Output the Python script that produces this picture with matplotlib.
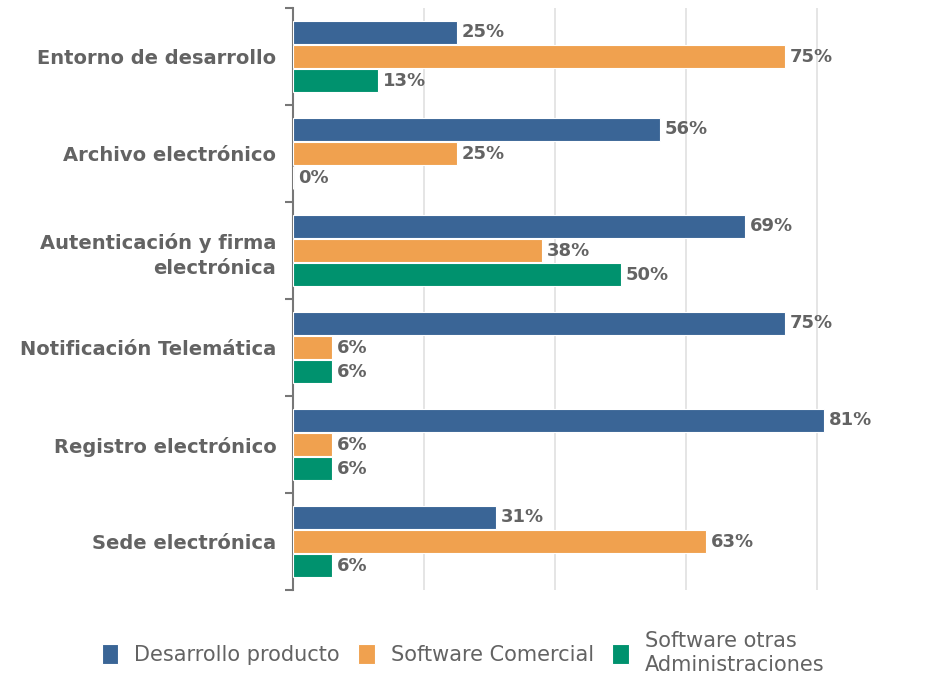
import numpy as np
import matplotlib.pyplot as plt
from matplotlib.ticker import FixedLocator, NullFormatter

categorias = [
    'Entorno de desarrollo',
    'Archivo electrónico',
    'Autenticación y firma\nelectrónica',
    'Notificación Telemática',
    'Registro electrónico',
    'Sede electrónica',
]
series = ['Desarrollo producto', 'Software Comercial', 'Software otras\nAdministraciones']
desarrollo = [25, 56, 69, 75, 81, 31]
comercial = [75, 25, 38, 6, 6, 63]
otras_admin = [13, 0, 50, 6, 6, 6]
colores = ['#3a6596', '#f0a14f', '#00926e']

texto_gris = '#636363'

fig = plt.figure(figsize=(9.41, 6.79), dpi=100)
ax = fig.add_axes([0.3114, 0.131, 0.627, 0.857])

y = np.arange(len(categorias))
alto = 0.235
desplazamientos = [-0.25, 0.0, 0.25]

for valores, color, nombre, dy in zip([desarrollo, comercial, otras_admin], colores, series, desplazamientos):
    barras = ax.barh(y + dy, valores, height=alto, color=color, edgecolor='white',
                     linewidth=0.8, label=nombre, zorder=3)
    for b, v in zip(barras, valores):
        ax.annotate(f'{v}%', xy=(v, b.get_y() + b.get_height() / 2),
                    xytext=(3.5, 0), textcoords='offset points',
                    ha='left', va='center', fontsize=13, fontweight='bold',
                    color=texto_gris, zorder=4)

ax.set_xlim(0, 90)
ax.set_ylim(len(categorias) - 0.5, -0.5)

# rejilla vertical cada 20 %
ax.set_xticks([0, 20, 40, 60, 80])
ax.xaxis.grid(True, color='#e0e0e0', linewidth=1.2, zorder=0)
ax.tick_params(axis='x', length=0, labelbottom=False)

# etiquetas centradas y marcas entre categorías
ax.set_yticks(y)
ax.set_yticklabels(categorias, fontsize=14, fontweight='bold', color=texto_gris,
                   linespacing=1.4)
ax.tick_params(axis='y', which='major', length=0, pad=12)
ax.yaxis.set_minor_locator(FixedLocator(np.arange(-0.5, len(categorias), 1.0)))
ax.yaxis.set_minor_formatter(NullFormatter())
ax.tick_params(axis='y', which='minor', length=6, width=1.5, color='#777777')

for lado in ['top', 'right', 'bottom']:
    ax.spines[lado].set_visible(False)
ax.spines['left'].set_color('#777777')
ax.spines['left'].set_linewidth(1.5)

leyenda = fig.legend(loc='center', bbox_to_anchor=(0.492, 0.038), ncol=3, frameon=False,
                     handlelength=0.8, handleheight=1.1, handletextpad=0.75, columnspacing=0.9,
                     prop={'size': 15}, labelcolor=texto_gris)
for t in leyenda.get_texts():
    t.set_linespacing(1.25)

fig.savefig('out.png', dpi=100)
